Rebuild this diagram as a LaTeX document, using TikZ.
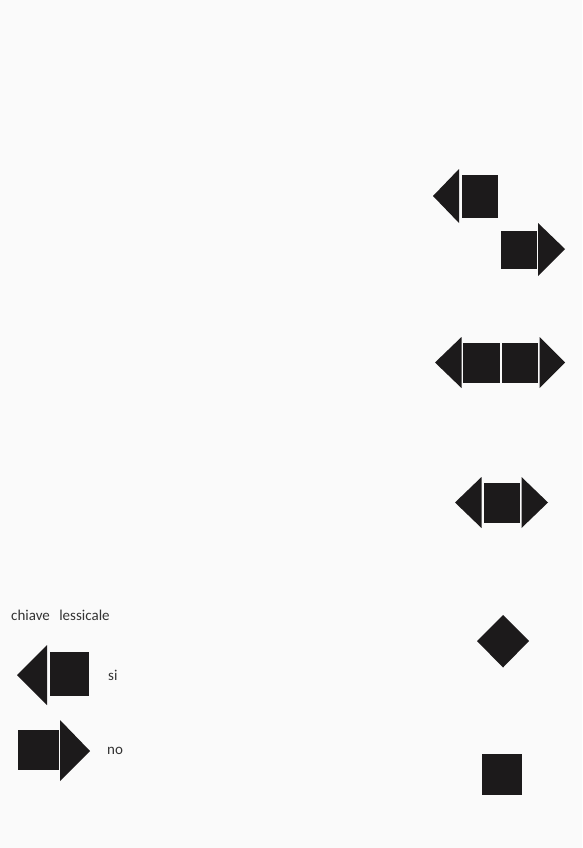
\documentclass[tikz,border=0pt]{standalone}
\usepackage{fontspec}
\setmainfont{Carlito}
\definecolor{ink}{HTML}{1C1A1B}
\definecolor{txt}{HTML}{333333}
\definecolor{paper}{HTML}{FAFAFA}
\begin{document}
\begin{tikzpicture}[x=1pt,y=-1pt,
  blk/.style={fill=ink,draw=none},
  lbl/.style={text=txt,font=\fontsize{15}{17}\selectfont,inner sep=0pt,anchor=west}]
\fill[paper] (0,0) rectangle (582,848);
\useasboundingbox (0,0) rectangle (582,848);
% shape 1: left arrow
\fill[blk] (433,196) -- (459,169) -- (459,223) -- cycle;
\fill[blk] (461.5,175) rectangle (498,218);
% shape 2: right arrow
\fill[blk] (501,230.5) rectangle (536.5,268.5);
\fill[blk] (538,223) -- (565,249) -- (538,276) -- cycle;
% shape 3: double arrow, two squares
\fill[blk] (435,362.5) -- (461.5,337) -- (461.5,388) -- cycle;
\fill[blk] (463,342.5) rectangle (500,383);
\fill[blk] (501.5,342.5) rectangle (538,383);
\fill[blk] (539.5,337) -- (565,362.5) -- (539.5,388) -- cycle;
% shape 4: double arrow, one square
\fill[blk] (455,502.5) -- (481.5,477) -- (481.5,528) -- cycle;
\fill[blk] (483.5,482.5) rectangle (520,522.5);
\fill[blk] (521.5,477) -- (548,502.5) -- (521.5,528) -- cycle;
% shape 5: diamond
\fill[blk] (503,615) -- (529,641) -- (503,667.5) -- (477,641) -- cycle;
% shape 6: square
\fill[blk] (481.5,754) rectangle (521.5,795);
% legend
\node[lbl] (key) at (11,615) {chiave\hspace{0.4em} lessicale};
\fill[blk] (17,675) -- (47,645) -- (47,705) -- cycle;
\fill[blk] (50,652) rectangle (89,696);
\node[lbl] (si) at (108,675) {si};
\fill[blk] (17.5,729.5) rectangle (58.5,770);
\fill[blk] (60,720) -- (90,751) -- (60,781) -- cycle;
\node[lbl] (no) at (107,751) {no};
\end{tikzpicture}
\end{document}
